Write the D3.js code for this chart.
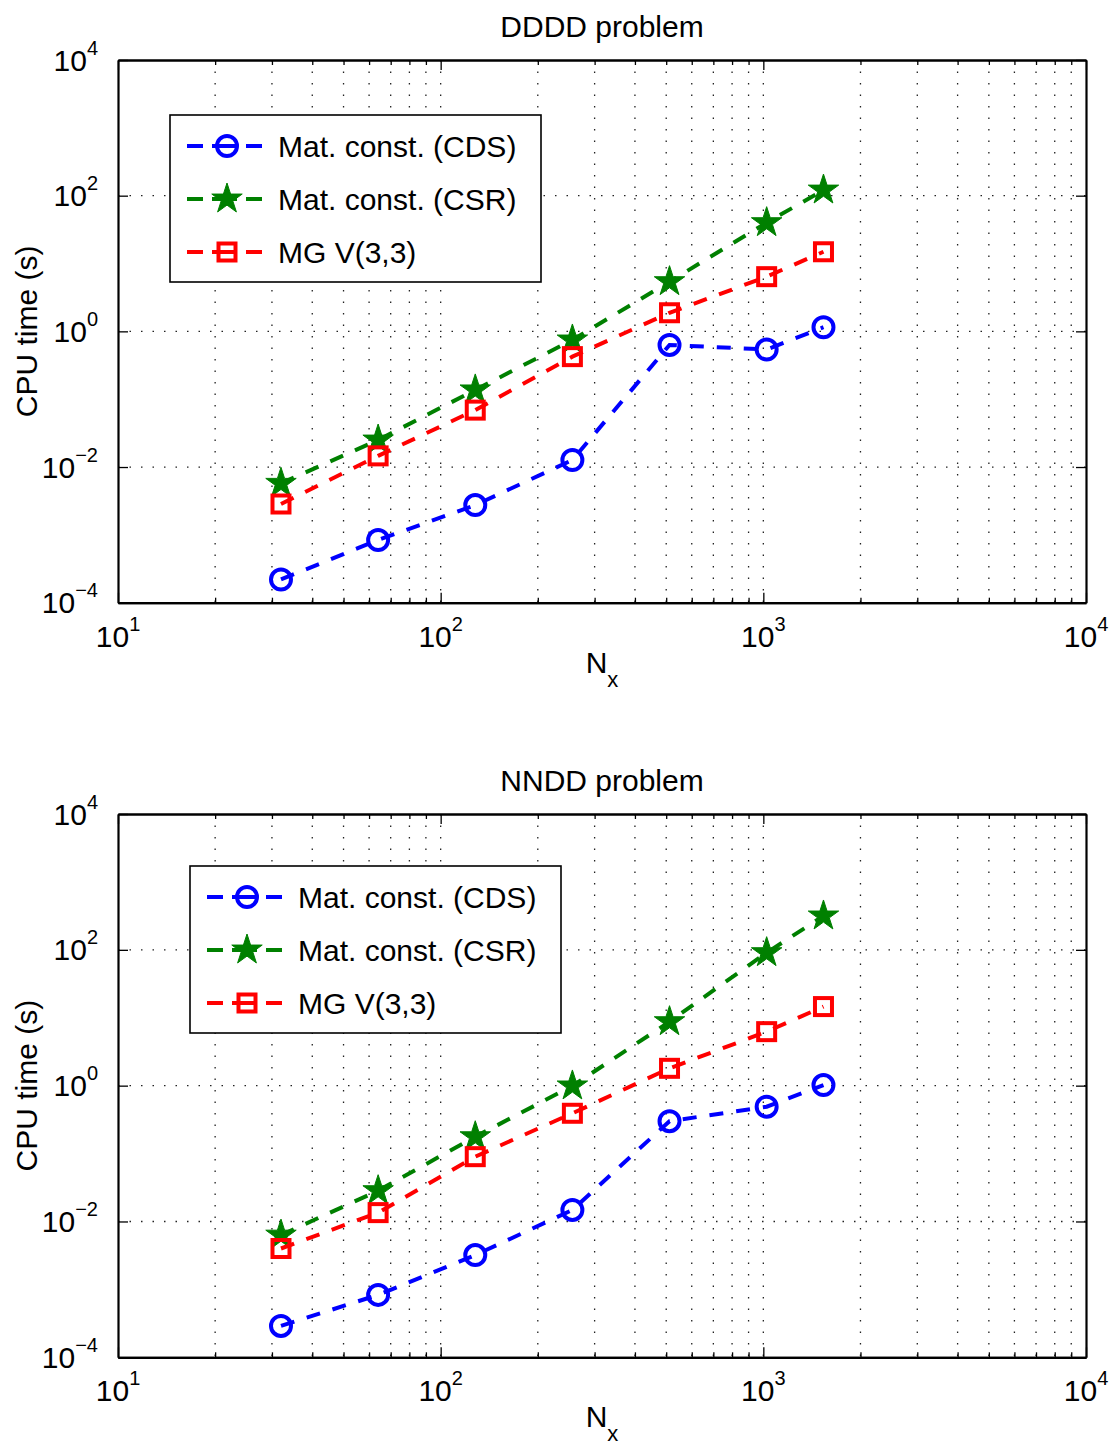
<!DOCTYPE html>
<html><head><meta charset="utf-8">
<script src="https://cdn.jsdelivr.net/npm/d3@7"></script>
<style>
html,body{margin:0;padding:0;background:#fff;}
svg text{font-family:"Liberation Sans",Arial,Helvetica,sans-serif;fill:#000;}
</style></head>
<body>
<svg id="chart" width="1115" height="1445"></svg>
<script>
// ---- data ----
const nx = [32, 64, 128, 256, 512, 1024, 1536];
const seriesNames = ["Mat. const. (CDS)", "Mat. const. (CSR)", "MG V(3,3)"];
const ddddCDS = [2.2e-4, 8.4e-4, 2.75e-3, 0.0127, 0.63, 0.54, 1.15];
const ddddCSR = [5.75e-3, 0.025, 0.137, 0.746, 5.4, 40, 121];
const ddddMG  = [2.85e-3, 0.0146, 0.069, 0.424, 1.88, 6.4, 14.9];
const nnddCDS = [2.9e-4, 8.3e-4, 3.2e-3, 0.0148, 0.30, 0.49, 1.02];
const nnddCSR = [6.3e-3, 0.0284, 0.177, 0.99, 8.75, 90.8, 315];
const nnddMG  = [4.0e-3, 0.0135, 0.090, 0.392, 1.80, 6.24, 14.6];
const xTickExps = [1, 2, 3, 4];
const yTickExps = [-4, -2, 0, 2, 4];
const titles = ["DDDD problem", "NNDD problem"];

const colors = ["#0000ff", "#008000", "#ff0000"];
const markers = ["circle", "star", "square"];

const svg = d3.select("#chart");
const L = 118, R = 1086;
const FS = 30, SUP = 20;
const LW = 4;

function starPath(Ro) {
  const ri = Ro * 0.382;
  const pts = [];
  for (let i = 0; i < 10; i++) {
    const a = -Math.PI / 2 + i * Math.PI / 5;
    const r = i % 2 === 0 ? Ro : ri;
    pts.push([r * Math.cos(a), r * Math.sin(a)]);
  }
  return "M" + pts.map(p => p[0].toFixed(2) + "," + p[1].toFixed(2)).join("L") + "Z";
}

function drawMarker(g, type, color, x, y) {
  if (type === "circle") {
    g.append("circle").attr("cx", x).attr("cy", y).attr("r", 10)
      .attr("fill", "none").attr("stroke", color).attr("stroke-width", LW);
  } else if (type === "square") {
    g.append("rect").attr("x", x - 8.5).attr("y", y - 8.5).attr("width", 17).attr("height", 17)
      .attr("fill", "none").attr("stroke", color).attr("stroke-width", LW);
  } else {
    g.append("path").attr("d", starPath(16)).attr("transform", `translate(${x},${y})`)
      .attr("fill", color).attr("stroke", color).attr("stroke-width", 1);
  }
}

function powLabel(sel, exp) {
  sel.append("tspan").text("10");
  sel.append("tspan").attr("dy", -16).attr("font-size", SUP).text(exp < 0 ? "\u2212" + (-exp) : String(exp));
}

function panel(idx, top, bottom, data, legX, legY) {
  const g = svg.append("g");
  const x = d3.scaleLog().domain([10, 1e4]).range([L, R]);
  const y = d3.scaleLog().domain([1e-4, 1e4]).range([bottom, top]);

  const xMinor = [];
  for (let d = 10; d < 1e4; d *= 10) for (let k = 2; k <= 9; k++) xMinor.push(k * d);
  const xMajor = xTickExps.map(e => Math.pow(10, e));
  const yMajor = yTickExps.map(e => Math.pow(10, e));

  // grid
  const grid = g.append("g").attr("stroke", "#222").attr("stroke-width", 1.3)
    .attr("stroke-dasharray", "1.5,10");
  xMinor.concat(xMajor.slice(1, -1)).forEach(v => {
    grid.append("line").attr("x1", x(v)).attr("x2", x(v)).attr("y1", top).attr("y2", bottom);
  });
  yMajor.slice(1, -1).forEach(v => {
    grid.append("line").attr("x1", L).attr("x2", R).attr("y1", y(v)).attr("y2", y(v));
  });

  // ticks via d3 axes (inside)
  const axB = g.append("g").attr("transform", `translate(0,${bottom})`)
    .call(d3.axisBottom(x).tickValues(xMinor).tickSizeInner(-5).tickSizeOuter(0).tickFormat(""));
  const axB2 = g.append("g").attr("transform", `translate(0,${bottom})`)
    .call(d3.axisBottom(x).tickValues(xMajor).tickSizeInner(-10).tickSizeOuter(0).tickFormat(""));
  const axT = g.append("g").attr("transform", `translate(0,${top})`)
    .call(d3.axisTop(x).tickValues(xMinor).tickSizeInner(-5).tickSizeOuter(0).tickFormat(""));
  const axT2 = g.append("g").attr("transform", `translate(0,${top})`)
    .call(d3.axisTop(x).tickValues(xMajor).tickSizeInner(-10).tickSizeOuter(0).tickFormat(""));
  const axLf = g.append("g").attr("transform", `translate(${L},0)`)
    .call(d3.axisLeft(y).tickValues(yMajor).tickSizeInner(-10).tickSizeOuter(0).tickFormat(""));
  const axRt = g.append("g").attr("transform", `translate(${R},0)`)
    .call(d3.axisRight(y).tickValues(yMajor).tickSizeInner(-10).tickSizeOuter(0).tickFormat(""));
  [axB, axB2, axT, axT2, axLf, axRt].forEach(a => {
    a.selectAll(".tick line").attr("stroke", "#000").attr("stroke-width", 1.3);
    a.select(".domain").attr("stroke", "#000").attr("stroke-width", 2.2);
  });

  // tick labels
  xMajor.forEach((v, i) => {
    const t = g.append("text").attr("x", x(v)).attr("y", bottom + 44)
      .attr("text-anchor", "middle").attr("font-size", FS);
    powLabel(t, xTickExps[i]);
  });
  yMajor.forEach((v, i) => {
    const t = g.append("text").attr("x", L - 20).attr("y", y(v) + 10.5)
      .attr("text-anchor", "end").attr("font-size", FS);
    powLabel(t, yTickExps[i]);
  });

  // title and axis labels
  g.append("text").attr("x", (L + R) / 2).attr("y", top - 23).attr("text-anchor", "middle")
    .attr("font-size", FS).text(titles[idx]);
  const xl = g.append("text").attr("x", (L + R) / 2).attr("y", bottom + 70)
    .attr("text-anchor", "middle").attr("font-size", FS);
  xl.append("tspan").text("N");
  xl.append("tspan").attr("dy", 14).attr("font-size", 22).text("x");
  g.append("text").attr("transform", `translate(37,${(top + bottom) / 2}) rotate(-90)`)
    .attr("text-anchor", "middle").attr("font-size", FS).text("CPU time (s)");

  // series
  const line = d3.line().x(d => x(d[0])).y(d => y(d[1]));
  data.forEach((vals, s) => {
    const pts = nx.map((v, i) => [v, vals[i]]);
    g.append("path").attr("d", line(pts)).attr("fill", "none")
      .attr("stroke", colors[s]).attr("stroke-width", LW).attr("stroke-dasharray", "14,13");
    pts.forEach(p => drawMarker(g, markers[s], colors[s], x(p[0]), y(p[1])));
  });

  // legend
  const lg = g.append("g").attr("transform", `translate(${legX},${legY})`);
  lg.append("rect").attr("x", 0).attr("y", 0).attr("width", 371).attr("height", 167)
    .attr("fill", "#fff").attr("stroke", "#000").attr("stroke-width", 1.6);
  seriesNames.forEach((nm, s) => {
    const cy = 31 + s * 53;
    lg.append("line").attr("x1", 17).attr("x2", 92).attr("y1", cy).attr("y2", cy)
      .attr("stroke", colors[s]).attr("stroke-width", LW).attr("stroke-dasharray", "16,9,25,9,16");
    drawMarker(lg, markers[s], colors[s], 57, cy);
    lg.append("text").attr("x", 108).attr("y", cy + 10.5).attr("font-size", FS).text(nm);
  });
}

panel(0, 60, 602.7, [ddddCDS, ddddCSR, ddddMG], 170, 115);
panel(1, 814, 1357.3, [nnddCDS, nnddCSR, nnddMG], 190, 866);
</script>
</body></html>
